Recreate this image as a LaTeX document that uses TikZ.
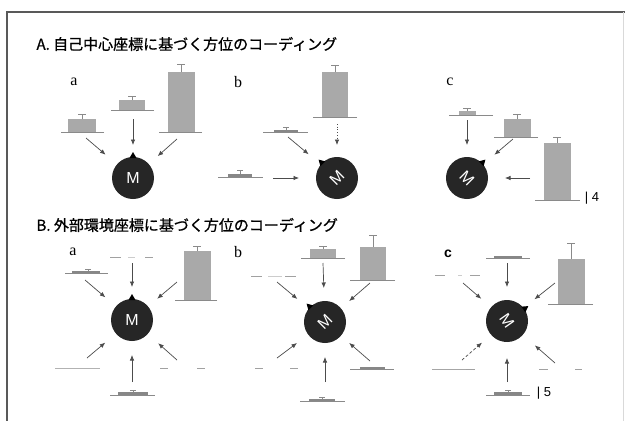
\documentclass[tikz,border=0pt]{standalone}
\usepackage{fontspec}
\newfontfamily\jpfont[FakeBold=0.8,AutoFakeBold=0.8]{Noto Sans CJK JP}
\newfontfamily\lsans{Liberation Sans}
\newfontfamily\lserif{Liberation Serif}
\usetikzlibrary{calc,arrows.meta}
\definecolor{barc}{HTML}{A9A9A9}
\definecolor{basec}{HTML}{8A8A8A}
\definecolor{circc}{HTML}{262626}
\tikzset{
  barfill/.style={fill=barc},
  tinyfill/.style={fill=barc!80!black},
  errsty/.style={draw=basec, line width=0.7pt},
  basesty/.style={draw=basec, line width=0.8pt},
  dashsty/.style={draw=basec!80, line width=0.8pt},
  arr/.style={draw=black!70, line width=0.7pt, -{Latex[length=5.5pt,width=4.5pt]}},
  mcirc/.style={circle, fill=circc, minimum size=42pt, inner sep=0pt, text=white, font=\lsans\fontsize{16}{16}\selectfont},
  title/.style={anchor=west, font=\jpfont\bfseries\fontsize{15}{17}\selectfont},
  lab/.style={font=\lserif\fontsize{16}{16}\selectfont},
  num/.style={font=\lsans\fontsize{13}{13}\selectfont}
}
% bar: cx, basey, halfwidth, topy, errtop, baseline left, baseline right
\newcommand\gbar[7]{%
  \fill[barfill] ({#1-#3},#2) rectangle ({#1+#3},#4);
  \draw[errsty] (#1,#4) -- (#1,#5) ({#1-4},#5) -- ({#1+4},#5);
  \draw[basesty] (#7,#2) -- (#6,#2);}
% tiny bar: basey, bar left, bar right, top, baseline left, baseline right
\newcommand\tbar[6]{%
  \fill[tinyfill] (#2,#1) rectangle (#3,#4);
  \draw[basesty] (#5,#1) -- (#6,#1);}
% arrow: [opts] circle node, start, distance from centre
\newcommand\arw[4][]{\draw[arr,#1] (#3) -- ($(#2.center)!#4pt!(#3)$);}
% heading marker (angle measured counter-clockwise on the page; y axis points down)
\newcommand\heading[2]{\fill[black] ($(#1.center)+({-(#2)}:26)$) -- ($(#1.center)+({-(#2)}:20)+({-(#2)+90}:3.5)$) -- ($(#1.center)+({-(#2)}:20)+({-(#2)-90}:3.5)$) -- cycle;}
\begin{document}
\begin{tikzpicture}[x=1pt,y=-1pt]
\useasboundingbox (0,0) rectangle (625,421);
\fill[white] (0,0) rectangle (625,421);
% frame
\draw[black!65, line width=1.3pt] (7,421) -- (7,12) -- (625,12);
\draw[black!15, line width=0.8pt] (623.5,12) -- (623.5,421);

% titles
\node[title] (tA) at (33,44) {A. 自己中心座標に基づく方位のコーディング};
\node[title] (tB) at (33,225) {B. 外部環境座標に基づく方位のコーディング};

% ================= A a =================
\node[lab] (la) at (74,82) {a};
\gbar{82}{132}{14}{119}{114}{61}{104}
\gbar{132}{110}{13}{100}{96}{111}{154}
\gbar{181}{132}{13.5}{72}{64}{159}{202}
\node[mcirc] (Aa) at (133,178) {M};
\heading{Aa}{90}
\arw{Aa}{86,138}{36}
\arw{Aa}{133,119}{33}
\arw{Aa}{177,139}{33}

% ================= A b =================
\node[lab] (lb) at (238,82) {b};
\tbar{132}{274}{298}{129.5}{263}{308}
\draw[errsty] (286,129.5) -- (286,127.5) (283,127.5) -- (289,127.5);
\gbar{335}{117}{13}{72}{65}{313}{357}
\tbar{177}{228}{252}{173.5}{218}{263}
\draw[errsty] (240,173.5) -- (240,170.5) (237,170.5) -- (243,170.5);
\node[mcirc, rotate=45] (Ab) at (337,178) {M};
\heading{Ab}{135}
\arw{Ab}{288,137}{37}
\arw[dotted]{Ab}{337,124}{33}
\arw{Ab}{273,178}{38}

% ================= A c =================
\node[lab] (lc) at (450,82) {c};
\gbar{467}{115}{8.5}{111}{108}{449}{493}
\gbar{517}{137}{13.5}{119}{114}{494}{538}
\gbar{557}{200}{13.5}{143}{137}{535}{580}
\node[num] (n4) at (592,198) {| 4};
\node[mcirc, rotate=-45] (Ac) at (467,178) {M};
\heading{Ac}{45}
\arw{Ac}{467,120}{33}
\arw{Ac}{513,139}{36}
\arw{Ac}{530,178}{38}

% ================= B a =================
\node[lab] (lBa) at (73,252) {a};
\draw[dashsty] (110,257) -- (121,257) (145,257) -- (153,257);
\draw[dashsty, black!20] (128,257) -- (135,257);
\tbar{273}{72}{100}{271}{65}{108}
\draw[errsty] (88,271) -- (88,269) (85,269) -- (91,269);
\gbar{197}{300}{13.5}{251}{246}{175}{217}
\draw[dashsty, black!30] (55,368) -- (100,368);
\draw[dashsty] (160,368) -- (168,368) (197,368) -- (205,368);
\tbar{395}{118}{148}{392}{110}{155}
\draw[errsty] (133,392) -- (133,390) (130,390) -- (136,390);
\node[mcirc] (Ba) at (132,320) {M};
\heading{Ba}{90}
\arw{Ba}{132,263}{33}
\arw{Ba}{85,280}{35}
\arw{Ba}{177,282}{33}
\arw{Ba}{87,358}{35}
\arw{Ba}{177,360}{35}
\arw{Ba}{132,382}{35}

% ================= B b =================
\node[lab] (lBb) at (238,252) {b};
\gbar{323}{258}{13}{249}{246}{301}{345}
\gbar{373}{280}{13}{247}{235}{350}{395}
\draw[dashsty] (251,276) -- (262,276) (285,276) -- (296,276);
\draw[dashsty, black!20] (268,276) -- (282,276);
\draw[dashsty] (255,368) -- (263,368) (290,368) -- (298,368);
\tbar{369}{360}{385}{367}{350}{394}
\tbar{401}{309}{335}{399}{300}{345}
\draw[errsty] (322,399) -- (322,397) (319,397) -- (325,397);
\node[mcirc, rotate=45] (Bb) at (325,322) {M};
\heading{Bb}{135}
\arw{Bb}{323,263}{34}
\arw{Bb}{277,282}{36}
\arw{Bb}{370,283}{32}
\arw{Bb}{277,358}{35}
\arw{Bb}{370,361}{32}
\arw{Bb}{325,382}{35}

% ================= B c =================
\node[font=\lsans\bfseries\fontsize{14}{14}\selectfont] (lBc) at (448,254) {c};
\tbar{258}{494}{522}{256}{486}{530}
\draw[dashsty] (435,275) -- (445,275) (470,275) -- (480,275);
\draw[dashsty, black!20] (458,275) -- (462,275);
\gbar{571}{304}{13.5}{259}{243}{548}{593}
\draw[dashsty, black!35] (432,369) -- (466,369);
\draw[dashsty] (466,369) -- (475,369);
\draw[dashsty] (539,369) -- (548,369) (575,369) -- (582,369);
\tbar{395}{494}{522}{392}{486}{530}
\draw[errsty] (508,392) -- (508,390) (505,390) -- (511,390);
\node[num] (n5) at (544,393) {| 5};
\node[mcirc, rotate=-55] (Bc) at (507,321) {M};
\heading{Bc}{35}
\arw{Bc}{507,263}{34}
\arw{Bc}{463,283}{34}
\arw{Bc}{555,283}{35}
\arw[densely dashed]{Bc}{462,360}{33}
\arw{Bc}{555,363}{37}
\arw{Bc}{507,382}{37}
\end{tikzpicture}
\end{document}
